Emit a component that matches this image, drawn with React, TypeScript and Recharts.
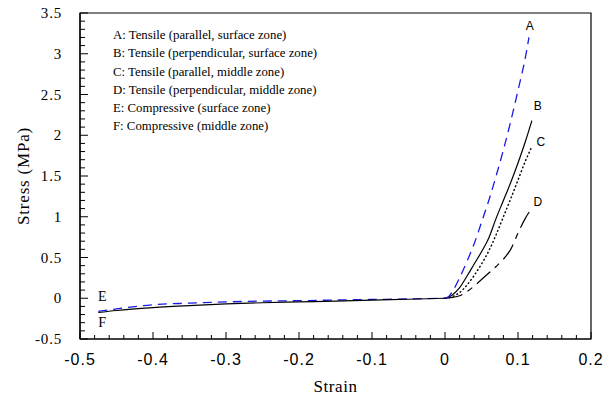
import { LineChart, Line, XAxis, YAxis, ReferenceArea, Label } from 'recharts';

// strain / stress readings for each curve
const strainA = [0, 0.005, 0.01, 0.02, 0.03, 0.04, 0.05, 0.06, 0.07, 0.08, 0.09, 0.1, 0.11, 0.115];
const stressA = [0, 0.02, 0.08, 0.25, 0.45, 0.67, 0.93, 1.2, 1.5, 1.82, 2.17, 2.55, 2.95, 3.2];

const strainB = [0, 0.01, 0.02, 0.03, 0.04, 0.05, 0.06, 0.07, 0.08, 0.09, 0.1, 0.11, 0.119];
const stressB = [0, 0.04, 0.13, 0.27, 0.42, 0.57, 0.74, 0.98, 1.2, 1.42, 1.66, 1.92, 2.18];

const strainC = [0, 0.01, 0.02, 0.03, 0.04, 0.05, 0.06, 0.07, 0.08, 0.09, 0.1, 0.11, 0.119];
const stressC = [0, 0.02, 0.07, 0.16, 0.28, 0.42, 0.58, 0.78, 1.0, 1.22, 1.45, 1.68, 1.86];

const strainD = [0, 0.01, 0.02, 0.03, 0.04, 0.05, 0.06, 0.07, 0.08, 0.09, 0.1, 0.11, 0.117];
const stressD = [0, 0.01, 0.03, 0.08, 0.15, 0.23, 0.31, 0.39, 0.48, 0.6, 0.8, 0.98, 1.08];

const strainEF = [-0.475, -0.45, -0.4, -0.35, -0.3, -0.25, -0.2, -0.15, -0.1, -0.05, 0];
const stressE = [-0.16, -0.13, -0.08, -0.06, -0.045, -0.035, -0.03, -0.022, -0.015, -0.008, 0];
const stressF = [-0.175, -0.15, -0.115, -0.09, -0.07, -0.055, -0.045, -0.035, -0.022, -0.012, 0];

const legendLines = [
  'A: Tensile (parallel, surface zone)',
  'B: Tensile (perpendicular, surface zone)',
  'C: Tensile (parallel, middle zone)',
  'D: Tensile (perpendicular, middle zone)',
  'E: Compressive (surface zone)',
  'F: Compressive (middle zone)',
];

const xMajor = [-0.5, -0.4, -0.3, -0.2, -0.1, 0, 0.1, 0.2];
const xTickLabels = ['-0.5', '-0.4', '-0.3', '-0.2', '-0.1', '0', '0.1', '0.2'];
const yMajor = [-0.5, 0, 0.5, 1, 1.5, 2, 2.5, 3, 3.5];
const yTickLabels = ['-0.5', '0', '0.5', '1', '1.5', '2', '2.5', '3', '3.5'];

const xTicks = Array.from({ length: 36 }, (_, i) => +(-0.5 + i * 0.02).toFixed(2));
const yTicks = Array.from({ length: 41 }, (_, i) => +(-0.5 + i * 0.1).toFixed(1));

const zip = (xs: number[], ys: number[]) => xs.map((x, i) => ({ x, y: ys[i] }));
const dataA = zip(strainA, stressA);
const dataB = zip(strainB, stressB);
const dataC = zip(strainC, stressC);
const dataD = zip(strainD, stressD);
const dataE = zip(strainEF, stressE);
const dataF = zip(strainEF, stressF);

const SANS = 'Liberation Sans, sans-serif';
const SERIF = 'Liberation Serif, serif';

function XTick(props: any) {
  const { x, y, payload } = props;
  const idx = xMajor.findIndex((m) => Math.abs(m - payload.value) < 1e-6);
  const major = idx >= 0;
  return (
    <g>
      <line x1={x} x2={x} y1={y} y2={y - (major ? 7 : 4)} stroke="#000" />
      {major && (
        <text x={x} y={y + 20} textAnchor="middle" dominantBaseline="central"
          style={{ fontFamily: SANS }} fontSize={16} letterSpacing={1} fill="#000">
          {xTickLabels[idx]}
        </text>
      )}
    </g>
  );
}

function YTick(props: any) {
  const { x, y, payload } = props;
  const idx = yMajor.findIndex((m) => Math.abs(m - payload.value) < 1e-6);
  const major = idx >= 0;
  return (
    <g>
      <line x1={x} x2={x + (major ? 8 : 5)} y1={y} y2={y} stroke="#000" />
      {major && (
        <text x={x - 18} y={y} textAnchor="end" dominantBaseline="central"
          style={{ fontFamily: SERIF }} fontSize={15} letterSpacing={0.8} fill="#000">
          {yTickLabels[idx]}
        </text>
      )}
    </g>
  );
}

// text tag at one end of a curve
function endTag(name: string, at: 'first' | 'last', dx: number, dy: number, font: string, size: number, len: number) {
  return (p: any) => {
    const want = at === 'first' ? 0 : len - 1;
    if (p.index !== want) return <g key={`${name}-${p.index}`} />;
    return (
      <text key={`${name}-${p.index}`} x={p.cx + dx} y={p.cy + dy} textAnchor="middle"
        dominantBaseline="central" style={{ fontFamily: font }} fontSize={size} fill="#000">
        {name}
      </text>
    );
  };
}

export default function App() {
  return (
    <div style={{ position: 'absolute', left: 0, top: 0, width: 609, height: 394, background: '#fff' }}>
      <LineChart width={609} height={394} margin={{ top: 13, right: 18, bottom: 0, left: 0 }}>
        <XAxis type="number" dataKey="x" domain={[-0.5, 0.2]} allowDataOverflow ticks={xTicks}
          interval={0} tickSize={0} tickMargin={0} tickLine={false} tick={<XTick />} height={55}
          axisLine={{ stroke: '#000', strokeWidth: 1.2 }}>
          <Label content={(p: any) => (
            <text x={p.viewBox.x + p.viewBox.width / 2} y={p.viewBox.y + 47} textAnchor="middle"
              dominantBaseline="central" style={{ fontFamily: SERIF }} fontSize={17} letterSpacing={0.6} fill="#000">
              Strain
            </text>
          )} />
        </XAxis>
        <YAxis type="number" dataKey="y" domain={[-0.5, 3.5]} allowDataOverflow ticks={yTicks}
          interval={0} tickSize={0} tickMargin={0} tickLine={false} tick={<YTick />} width={80}
          axisLine={{ stroke: '#000', strokeWidth: 1.2 }}>
          <Label content={(p: any) => {
            const cx = p.viewBox.x + 23;
            const cy = p.viewBox.y + p.viewBox.height / 2;
            return (
              <text x={cx} y={cy} transform={`rotate(-90 ${cx} ${cy})`} textAnchor="middle"
                dominantBaseline="central" style={{ fontFamily: SERIF }} fontSize={17} letterSpacing={0.8} fill="#000">
                Stress (MPa)
              </text>
            );
          }} />
        </YAxis>
        <ReferenceArea x1={-0.5} x2={0.2} y1={-0.5} y2={3.5} fill="none" stroke="#000" strokeWidth={1.2} />
        <Line data={dataE} dataKey="y" type="monotone" stroke="#1a1ae6" strokeWidth={1.3}
          strokeDasharray="9 6" isAnimationActive={false}
          dot={endTag('E', 'first', 4, -15, SERIF, 14, dataE.length)} activeDot={false} />
        <Line data={dataF} dataKey="y" type="monotone" stroke="#000" strokeWidth={1.2}
          isAnimationActive={false}
          dot={endTag('F', 'first', 4, 9.5, SERIF, 14, dataF.length)} activeDot={false} />
        <Line data={dataD} dataKey="y" type="monotone" stroke="#000" strokeWidth={1.2}
          strokeDasharray="18 6 6 6" isAnimationActive={false}
          dot={endTag('D', 'last', 7.5, -8, SANS, 12, dataD.length)} activeDot={false} />
        <Line data={dataC} dataKey="y" type="monotone" stroke="#000" strokeWidth={1.4}
          strokeDasharray="2 2" isAnimationActive={false}
          dot={endTag('C', 'last', 9, -5, SANS, 12, dataC.length)} activeDot={false} />
        <Line data={dataB} dataKey="y" type="monotone" stroke="#000" strokeWidth={1.2}
          isAnimationActive={false}
          dot={endTag('B', 'last', 6, -14.5, SANS, 12, dataB.length)} activeDot={false} />
        <Line data={dataA} dataKey="y" type="monotone" stroke="#1a1ae6" strokeWidth={1.3}
          strokeDasharray="9 6" isAnimationActive={false}
          dot={endTag('A', 'last', 0.7, -11, SANS, 12, dataA.length)} activeDot={false} />
      </LineChart>
      <div style={{ position: 'absolute', left: 113, top: 26, fontFamily: SERIF, fontSize: 12.8, lineHeight: '18.3px', color: '#000' }}>
        {legendLines.map((t) => (
          <div key={t} style={{ whiteSpace: 'nowrap' }}>{t}</div>
        ))}
      </div>
    </div>
  );
}
